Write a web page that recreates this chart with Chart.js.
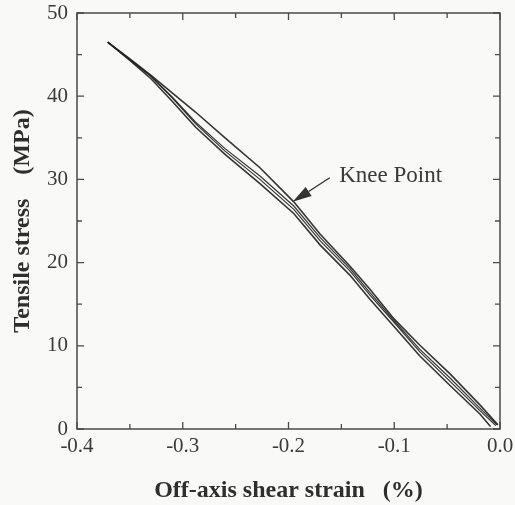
<!DOCTYPE html>
<html><head><meta charset="utf-8">
<script src="https://cdn.jsdelivr.net/npm/chart.js@4.4.1/dist/chart.umd.min.js"></script>
<style>html,body{margin:0;padding:0;background:#f9f9f7;overflow:hidden}#wrap{width:515px;height:505px;position:relative}</style>
</head><body><div id="wrap"><canvas id="c" width="515" height="505"></canvas></div>
<script>
// ---- data ----
const xMajorTicks = [-0.4, -0.3, -0.2, -0.1, 0.0];
const xMinorTicks = [-0.35, -0.25, -0.15, -0.05];
const yMajorTicks = [0, 10, 20, 30, 40, 50];
const yMinorTicks = [5, 15, 25, 35, 45];

const upperX = [-0.371,-0.350,-0.330,-0.310,-0.288,-0.260,-0.227,-0.195,-0.170,-0.142,-0.123,-0.100,-0.076,-0.047,-0.019,-0.002];
const upperY = [46.5,44.5,42.5,40.4,38.1,35.0,31.4,27.3,23.4,19.6,16.8,13.2,10.1,6.6,2.9,0.5];

const midAX = [-0.371,-0.350,-0.330,-0.310,-0.288,-0.260,-0.227,-0.195,-0.170,-0.142,-0.123,-0.100,-0.076,-0.047,-0.019,-0.003];
const midAY = [46.5,44.4,42.4,39.9,36.9,33.7,30.4,26.8,23.0,19.3,16.4,13.0,9.6,6.1,2.5,0.5];

const midBX = [-0.371,-0.350,-0.330,-0.310,-0.288,-0.260,-0.227,-0.195,-0.170,-0.142,-0.123,-0.100,-0.076,-0.047,-0.019,-0.004];
const midBY = [46.5,44.4,42.4,39.8,36.7,33.4,30.0,26.4,22.6,19.0,16.1,12.8,9.3,5.7,2.2,0.4];

const lowerX = [-0.371,-0.350,-0.330,-0.310,-0.288,-0.260,-0.227,-0.195,-0.170,-0.142,-0.123,-0.100,-0.076,-0.047,-0.019,-0.009];
const lowerY = [46.5,44.3,42.1,39.4,36.3,33.0,29.5,25.9,22.1,18.5,15.6,12.3,8.8,5.2,1.8,0.3];

const kneeLabel = 'Knee Point';
const kneeTip = [-0.196, 27.3];
const kneeTail = [-0.161, 30.2];
const kneeText = [-0.152, 30.4];

const xTitle = 'Off-axis shear strain   (%)';
const yTitle = 'Tensile stress    (MPa)';

// ---- helpers ----
const toPts = (xs, ys) => xs.map((x, i) => ({x, y: ys[i]}));
const INK = '#3a3a3a';
const LINE = 'rgba(35,35,35,0.92)';

const framePlugin = {
  id: 'frame',
  afterDatasetsDraw(chart) {
    const {ctx, chartArea: a, scales: {x, y}} = chart;
    ctx.save();
    ctx.strokeStyle = '#4a4a4a';
    ctx.lineWidth = 1.5;
    ctx.strokeRect(a.left, a.top, a.right - a.left, a.bottom - a.top);
    ctx.lineWidth = 1.3;
    const drawX = (vals, len) => vals.forEach(v => {
      const px = x.getPixelForValue(v);
      ctx.beginPath();
      ctx.moveTo(px, a.bottom); ctx.lineTo(px, a.bottom - len);
      ctx.moveTo(px, a.top); ctx.lineTo(px, a.top + len);
      ctx.stroke();
    });
    const drawY = (vals, len) => vals.forEach(v => {
      const py = y.getPixelForValue(v);
      ctx.beginPath();
      ctx.moveTo(a.left, py); ctx.lineTo(a.left + len, py);
      ctx.moveTo(a.right, py); ctx.lineTo(a.right - len, py);
      ctx.stroke();
    });
    drawX(xMajorTicks, 7); drawX(xMinorTicks, 5);
    drawY(yMajorTicks, 7); drawY(yMinorTicks, 5);

    // annotation arrow
    const tx = x.getPixelForValue(kneeTip[0]), ty = y.getPixelForValue(kneeTip[1]);
    const sx = x.getPixelForValue(kneeTail[0]), sy = y.getPixelForValue(kneeTail[1]);
    const ang = Math.atan2(ty - sy, tx - sx);
    const hl = 19, hw = 5.5;
    const bx = tx - hl * Math.cos(ang), by = ty - hl * Math.sin(ang);
    ctx.strokeStyle = '#333';
    ctx.lineWidth = 1.4;
    ctx.beginPath(); ctx.moveTo(sx, sy); ctx.lineTo(bx, by); ctx.stroke();
    ctx.fillStyle = '#333';
    ctx.beginPath();
    ctx.moveTo(tx, ty);
    ctx.lineTo(bx + hw * Math.sin(ang), by - hw * Math.cos(ang));
    ctx.lineTo(bx - hw * Math.sin(ang), by + hw * Math.cos(ang));
    ctx.closePath(); ctx.fill();

    ctx.fillStyle = INK;
    ctx.font = '23px "Liberation Serif", "Times New Roman", serif';
    ctx.textAlign = 'left';
    ctx.textBaseline = 'middle';
    ctx.fillText(kneeLabel, x.getPixelForValue(kneeText[0]), y.getPixelForValue(kneeText[1]));
    ctx.restore();
  }
};

const ds = (pts, w) => ({
  data: pts, showLine: true, pointRadius: 0, borderColor: LINE,
  borderWidth: w, fill: false, tension: 0
});

new Chart(document.getElementById('c'), {
  type: 'scatter',
  data: {
    datasets: [
      ds(toPts(upperX, upperY), 1.6),
      ds(toPts(midAX, midAY), 1.2),
      ds(toPts(midBX, midBY), 1.2),
      ds(toPts(lowerX, lowerY), 1.6)
    ]
  },
  options: {
    responsive: false,
    animation: false,
    devicePixelRatio: 1,
    layout: {padding: {top: 13, right: 15, bottom: 0, left: 0}},
    plugins: {legend: {display: false}, tooltip: {enabled: false}},
    scales: {
      x: {
        type: 'linear', min: -0.4, max: 0.0,
        afterFit: s => { s.height = 76; s.paddingLeft = 0; s.paddingRight = 0; },
        afterBuildTicks: s => { s.ticks = xMajorTicks.map(v => ({value: v})); },
        grid: {display: false, drawTicks: false},
        border: {display: false},
        ticks: {
          padding: 5, color: INK, maxRotation: 0,
          font: {family: '"Liberation Serif", serif', size: 21},
          callback: v => Number(v).toFixed(1)
        },
        title: {
          display: true, text: xTitle, color: '#2e2e2e',
          font: {family: '"Liberation Serif", serif', size: 24, weight: 'bold'},
          padding: {top: 0, bottom: 0}
        }
      },
      y: {
        type: 'linear', min: 0, max: 50,
        afterFit: s => { s.width = 77; s.paddingTop = 0; s.paddingBottom = 0; },
        afterBuildTicks: s => { s.ticks = yMajorTicks.map(v => ({value: v})); },
        grid: {display: false, drawTicks: false},
        border: {display: false},
        ticks: {
          padding: 9, color: INK,
          font: {family: '"Liberation Serif", serif', size: 21},
          callback: v => String(v)
        },
        title: {
          display: true, text: yTitle, color: '#2e2e2e',
          font: {family: '"Liberation Serif", serif', size: 24, weight: 'bold'},
          padding: {top: 8, bottom: 0}
        }
      }
    }
  },
  plugins: [framePlugin]
});
</script>
</body></html>
